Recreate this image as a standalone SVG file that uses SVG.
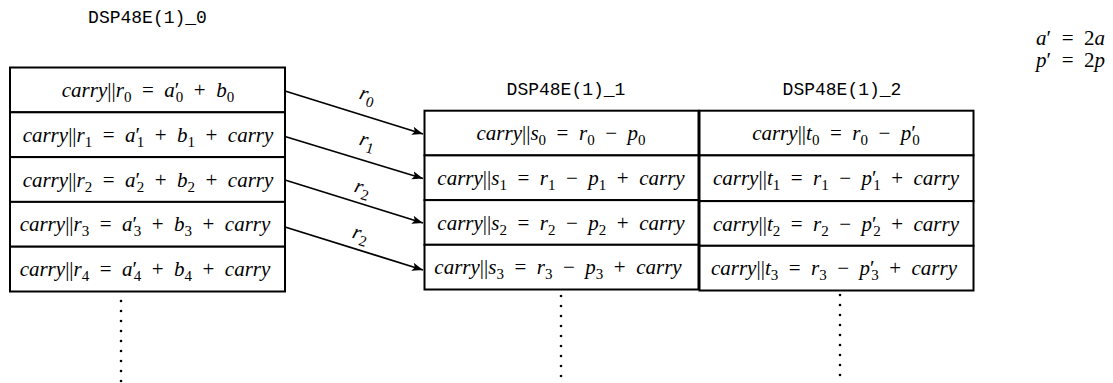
<svg xmlns="http://www.w3.org/2000/svg" width="1113" height="383" viewBox="0 0 1113 383">
<defs>
<style>
.bg{fill:#fff}
.cell{fill:#fff;stroke:#000;stroke-width:2}
.m{font-family:"Liberation Serif",serif;font-size:21px;fill:#000}
.i{font-style:italic}
.s{font-size:15px;font-style:normal}
.tt{font-family:"Liberation Mono","DejaVu Sans Mono",monospace;font-size:18px;fill:#000}
.conn line{stroke:#000;stroke-width:1.8}
.dot{fill:#000}
</style>
<marker id="ah" markerWidth="12" markerHeight="10" refX="11" refY="5" orient="auto" markerUnits="userSpaceOnUse">
<path d="M0,0.8 L11,5 L0,9.2 L2.5,5 Z" fill="#000"/>
</marker>
</defs>
<rect class="bg" x="0" y="0" width="1113" height="383"/>

<text class="tt" x="147.5" y="23" text-anchor="middle">DSP48E(1)_0</text>
<text class="tt" x="566" y="95" text-anchor="middle">DSP48E(1)_1</text>
<text class="tt" x="842" y="95" text-anchor="middle">DSP48E(1)_2</text>

<text class="m" x="1105" y="45" text-anchor="end"><tspan class="i">a</tspan>′&#8194;=&#8194;2<tspan class="i">a</tspan></text>
<text class="m" x="1105" y="67" text-anchor="end"><tspan class="i">p</tspan>′&#8194;=&#8194;2<tspan class="i">p</tspan></text>

<g id="dsp0">
<g id="r0"><rect class="cell" x="10" y="67.5" width="275" height="44.8"/>
<text class="m" x="148" y="97" text-anchor="middle"><tspan class="i">carry</tspan>||<tspan class="i">r</tspan><tspan class="s" baseline-shift="-4.5">0</tspan>&#8194;=&#8194;<tspan class="i">a</tspan>′<tspan class="s" dx="-3.5" baseline-shift="-4.5">0</tspan>&#8194;+&#8194;<tspan class="i">b</tspan><tspan class="s" baseline-shift="-4.5">0</tspan></text></g>
<g id="r1"><rect class="cell" x="10" y="112.3" width="275" height="44.8"/>
<text class="m" x="148" y="141.8" text-anchor="middle"><tspan class="i">carry</tspan>||<tspan class="i">r</tspan><tspan class="s" baseline-shift="-4.5">1</tspan>&#8194;=&#8194;<tspan class="i">a</tspan>′<tspan class="s" dx="-3.5" baseline-shift="-4.5">1</tspan>&#8194;+&#8194;<tspan class="i">b</tspan><tspan class="s" baseline-shift="-4.5">1</tspan>&#8194;+&#8194;<tspan class="i">carry</tspan></text></g>
<g id="r2"><rect class="cell" x="10" y="157.1" width="275" height="44.8"/>
<text class="m" x="148" y="186.6" text-anchor="middle"><tspan class="i">carry</tspan>||<tspan class="i">r</tspan><tspan class="s" baseline-shift="-4.5">2</tspan>&#8194;=&#8194;<tspan class="i">a</tspan>′<tspan class="s" dx="-3.5" baseline-shift="-4.5">2</tspan>&#8194;+&#8194;<tspan class="i">b</tspan><tspan class="s" baseline-shift="-4.5">2</tspan>&#8194;+&#8194;<tspan class="i">carry</tspan></text></g>
<g id="r3"><rect class="cell" x="10" y="201.9" width="275" height="44.8"/>
<text class="m" x="145" y="231.4" text-anchor="middle"><tspan class="i">carry</tspan>||<tspan class="i">r</tspan><tspan class="s" baseline-shift="-4.5">3</tspan>&#8194;=&#8194;<tspan class="i">a</tspan>′<tspan class="s" dx="-3.5" baseline-shift="-4.5">3</tspan>&#8194;+&#8194;<tspan class="i">b</tspan><tspan class="s" baseline-shift="-4.5">3</tspan>&#8194;+&#8194;<tspan class="i">carry</tspan></text></g>
<g id="r4"><rect class="cell" x="10" y="246.7" width="275" height="44.8"/>
<text class="m" x="145" y="276.2" text-anchor="middle"><tspan class="i">carry</tspan>||<tspan class="i">r</tspan><tspan class="s" baseline-shift="-4.5">4</tspan>&#8194;=&#8194;<tspan class="i">a</tspan>′<tspan class="s" dx="-3.5" baseline-shift="-4.5">4</tspan>&#8194;+&#8194;<tspan class="i">b</tspan><tspan class="s" baseline-shift="-4.5">4</tspan>&#8194;+&#8194;<tspan class="i">carry</tspan></text></g>
</g>

<g id="dsp1">
<g id="s0"><rect class="cell" x="424.5" y="110.7" width="274" height="44.7"/>
<text class="m" x="561" y="140.2" text-anchor="middle"><tspan class="i">carry</tspan>||<tspan class="i">s</tspan><tspan class="s" baseline-shift="-4.5">0</tspan>&#8194;=&#8194;<tspan class="i">r</tspan><tspan class="s" baseline-shift="-4.5">0</tspan>&#8194;−&#8194;<tspan class="i">p</tspan><tspan class="s" baseline-shift="-4.5">0</tspan></text></g>
<g id="s1"><rect class="cell" x="424.5" y="155.4" width="274" height="44.7"/>
<text class="m" x="561" y="184.9" text-anchor="middle"><tspan class="i">carry</tspan>||<tspan class="i">s</tspan><tspan class="s" baseline-shift="-4.5">1</tspan>&#8194;=&#8194;<tspan class="i">r</tspan><tspan class="s" baseline-shift="-4.5">1</tspan>&#8194;−&#8194;<tspan class="i">p</tspan><tspan class="s" baseline-shift="-4.5">1</tspan>&#8194;+&#8194;<tspan class="i">carry</tspan></text></g>
<g id="s2"><rect class="cell" x="424.5" y="200.1" width="274" height="44.7"/>
<text class="m" x="561" y="229.6" text-anchor="middle"><tspan class="i">carry</tspan>||<tspan class="i">s</tspan><tspan class="s" baseline-shift="-4.5">2</tspan>&#8194;=&#8194;<tspan class="i">r</tspan><tspan class="s" baseline-shift="-4.5">2</tspan>&#8194;−&#8194;<tspan class="i">p</tspan><tspan class="s" baseline-shift="-4.5">2</tspan>&#8194;+&#8194;<tspan class="i">carry</tspan></text></g>
<g id="s3"><rect class="cell" x="424.5" y="244.8" width="274" height="44.7"/>
<text class="m" x="558" y="274.3" text-anchor="middle"><tspan class="i">carry</tspan>||<tspan class="i">s</tspan><tspan class="s" baseline-shift="-4.5">3</tspan>&#8194;=&#8194;<tspan class="i">r</tspan><tspan class="s" baseline-shift="-4.5">3</tspan>&#8194;−&#8194;<tspan class="i">p</tspan><tspan class="s" baseline-shift="-4.5">3</tspan>&#8194;+&#8194;<tspan class="i">carry</tspan></text></g>
</g>

<g id="dsp2">
<g id="t0"><rect class="cell" x="699.5" y="110.7" width="274" height="44.7"/>
<text class="m" x="836" y="140.2" text-anchor="middle"><tspan class="i">carry</tspan>||<tspan class="i">t</tspan><tspan class="s" baseline-shift="-4.5">0</tspan>&#8194;=&#8194;<tspan class="i">r</tspan><tspan class="s" baseline-shift="-4.5">0</tspan>&#8194;−&#8194;<tspan class="i">p</tspan>′<tspan class="s" dx="-3.5" baseline-shift="-4.5">0</tspan></text></g>
<g id="t1"><rect class="cell" x="699.5" y="155.4" width="274" height="45.7"/>
<text class="m" x="836" y="184.9" text-anchor="middle"><tspan class="i">carry</tspan>||<tspan class="i">t</tspan><tspan class="s" baseline-shift="-4.5">1</tspan>&#8194;=&#8194;<tspan class="i">r</tspan><tspan class="s" baseline-shift="-4.5">1</tspan>&#8194;−&#8194;<tspan class="i">p</tspan>′<tspan class="s" dx="-3.5" baseline-shift="-4.5">1</tspan>&#8194;+&#8194;<tspan class="i">carry</tspan></text></g>
<g id="t2"><rect class="cell" x="699.5" y="201.1" width="274" height="44.7"/>
<text class="m" x="836" y="230.6" text-anchor="middle"><tspan class="i">carry</tspan>||<tspan class="i">t</tspan><tspan class="s" baseline-shift="-4.5">2</tspan>&#8194;=&#8194;<tspan class="i">r</tspan><tspan class="s" baseline-shift="-4.5">2</tspan>&#8194;−&#8194;<tspan class="i">p</tspan>′<tspan class="s" dx="-3.5" baseline-shift="-4.5">2</tspan>&#8194;+&#8194;<tspan class="i">carry</tspan></text></g>
<g id="t3"><rect class="cell" x="699.5" y="245.8" width="274" height="44.7"/>
<text class="m" x="834" y="275.3" text-anchor="middle"><tspan class="i">carry</tspan>||<tspan class="i">t</tspan><tspan class="s" baseline-shift="-4.5">3</tspan>&#8194;=&#8194;<tspan class="i">r</tspan><tspan class="s" baseline-shift="-4.5">3</tspan>&#8194;−&#8194;<tspan class="i">p</tspan>′<tspan class="s" dx="-3.5" baseline-shift="-4.5">3</tspan>&#8194;+&#8194;<tspan class="i">carry</tspan></text></g>
</g>

<g id="connectors" class="conn">
<line x1="285" y1="91" x2="423" y2="134" marker-end="url(#ah)"/>
<line x1="285" y1="136.5" x2="423" y2="178.5" marker-end="url(#ah)"/>
<line x1="285" y1="180" x2="423" y2="223" marker-end="url(#ah)"/>
<line x1="285" y1="227" x2="423" y2="270" marker-end="url(#ah)"/>
<text class="m" x="367" y="101" text-anchor="middle" transform="rotate(17 367 97)"><tspan class="i">r</tspan><tspan class="s" baseline-shift="-4.5">0</tspan></text>
<text class="m" x="367" y="147" text-anchor="middle" transform="rotate(17 367 143)"><tspan class="i">r</tspan><tspan class="s" baseline-shift="-4.5">1</tspan></text>
<text class="m" x="362" y="194" text-anchor="middle" transform="rotate(17 362 190)"><tspan class="i">r</tspan><tspan class="s" baseline-shift="-4.5">2</tspan></text>
<text class="m" x="360" y="240" text-anchor="middle" transform="rotate(17 360 236)"><tspan class="i">r</tspan><tspan class="s" baseline-shift="-4.5">2</tspan></text>
</g>

<g id="dots">
<circle class="dot" cx="121" cy="301" r="1.3"/><circle class="dot" cx="121" cy="311" r="1.3"/><circle class="dot" cx="121" cy="321" r="1.3"/><circle class="dot" cx="121" cy="331" r="1.3"/><circle class="dot" cx="121" cy="341" r="1.3"/><circle class="dot" cx="121" cy="351" r="1.3"/><circle class="dot" cx="121" cy="361" r="1.3"/><circle class="dot" cx="121" cy="371" r="1.3"/><circle class="dot" cx="121" cy="381" r="1.3"/>
<circle class="dot" cx="561" cy="296" r="1.3"/><circle class="dot" cx="561" cy="306" r="1.3"/><circle class="dot" cx="561" cy="316" r="1.3"/><circle class="dot" cx="561" cy="326" r="1.3"/><circle class="dot" cx="561" cy="336" r="1.3"/><circle class="dot" cx="561" cy="346" r="1.3"/><circle class="dot" cx="561" cy="356" r="1.3"/><circle class="dot" cx="561" cy="366" r="1.3"/><circle class="dot" cx="561" cy="376" r="1.3"/>
<circle class="dot" cx="840" cy="295" r="1.3"/><circle class="dot" cx="840" cy="305" r="1.3"/><circle class="dot" cx="840" cy="315" r="1.3"/><circle class="dot" cx="840" cy="325" r="1.3"/><circle class="dot" cx="840" cy="335" r="1.3"/><circle class="dot" cx="840" cy="345" r="1.3"/><circle class="dot" cx="840" cy="355" r="1.3"/><circle class="dot" cx="840" cy="365" r="1.3"/><circle class="dot" cx="840" cy="375" r="1.3"/>
</g>
</svg>
